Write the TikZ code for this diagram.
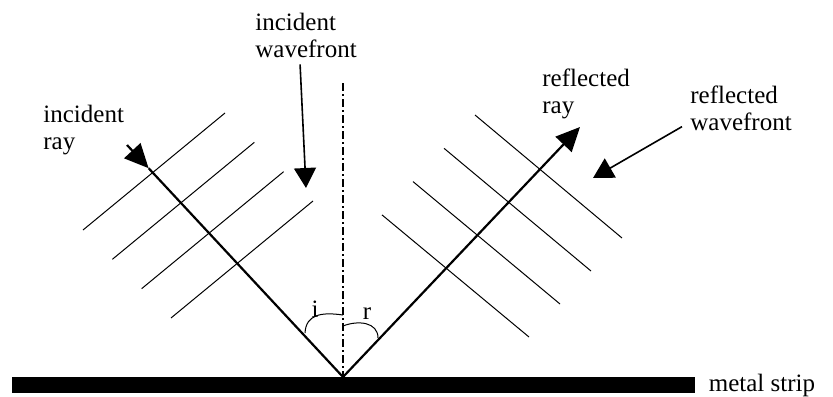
\documentclass[tikz,border=0pt]{standalone}
\usepackage{fontspec}
\setmainfont{Liberation Serif}
\usepackage{tikz}
\usetikzlibrary{positioning}
\usetikzlibrary{arrows.meta,calc}
\pgfkeys{tikz/rayline/.style={line width=1.1pt}}
\pgfkeys{tikz/wfline/.style={line width=0.5pt}}
\pgfkeys{tikz/raytip/.style={-{Triangle[length=12pt,width=11pt]}}}
\pgfkeys{tikz/pointer/.style={line width=0.8pt,-{Triangle[length=10pt,width=11pt]}}}
\pgfkeys{tikz/txt/.style={inner sep=0pt,align=left,font=\fontsize{12.5}{13.5}\selectfont}}
\pgfkeys{tikz/normalline/.style={line width=0.6pt,dash pattern=on 4pt off 1.5pt on 1pt off 1.5pt}}

\begin{document}
\begin{tikzpicture}[x=0.5pt,y=-0.5pt]
\useasboundingbox (0,0) rectangle (833,396);

	\node[fill=black,inner sep=0pt,minimum width=341.5pt,minimum height=8pt] (strip) at (353.5,385) {};
	\node[txt,right=6.5pt of strip] (metal) {metal strip};

	\coordinate (o) at (343,377);
	\coordinate (ntop) at (343,83);
	\draw[normalline] (ntop) -- (o);

	\foreach \k in {0,...,3}{
		\draw[wfline] (83+29.33*\k,230+29.33*\k) -- (225+29.33*\k,113+29.33*\k);
		\draw[wfline] (475-31*\k,115+33.3*\k) -- (622-31*\k,238+33*\k);
	}

	\coordinate (inc) at (127,145);
	\coordinate (inctip) at ($(inc)!0.1!(o)$);
	\coordinate (ref) at (580,127);
	\draw[rayline,raytip] (inc) -- (inctip);
	\draw[rayline] (inctip) -- (o);
	\draw[rayline,raytip] (o) -- (ref);

	\draw[wfline] (305,333) .. controls (306,314) and (322,312) .. (343,315);
	\draw[wfline] (343,326) .. controls (358,320) and (378,322) .. (378,338);
	\node[txt] (angi) at (315,309) {i};
	\node[txt] (angr) at (367,314) {r};

    \node[txt,anchor=north west] (incray) at (43,105) {incident\\ray};
    \node[txt,anchor=north west] (incwf) at (255,13) {incident\\wavefront};
    \node[txt,anchor=north west] (refray) at (542,68) {reflected\\ray};
    \node[txt,anchor=north west] (refwf) at (690,85) {reflected\\wavefront};

	\coordinate (incwftip) at (306,188);
	\coordinate (refwftip) at (593,178);
	\draw[pointer] ([xshift=-3pt,yshift=-3pt]incwf.south) -- (incwftip);
	\draw[pointer] ([xshift=-4pt,yshift=2pt]refwf.south west) -- (refwftip);

\end{tikzpicture}
\end{document}
